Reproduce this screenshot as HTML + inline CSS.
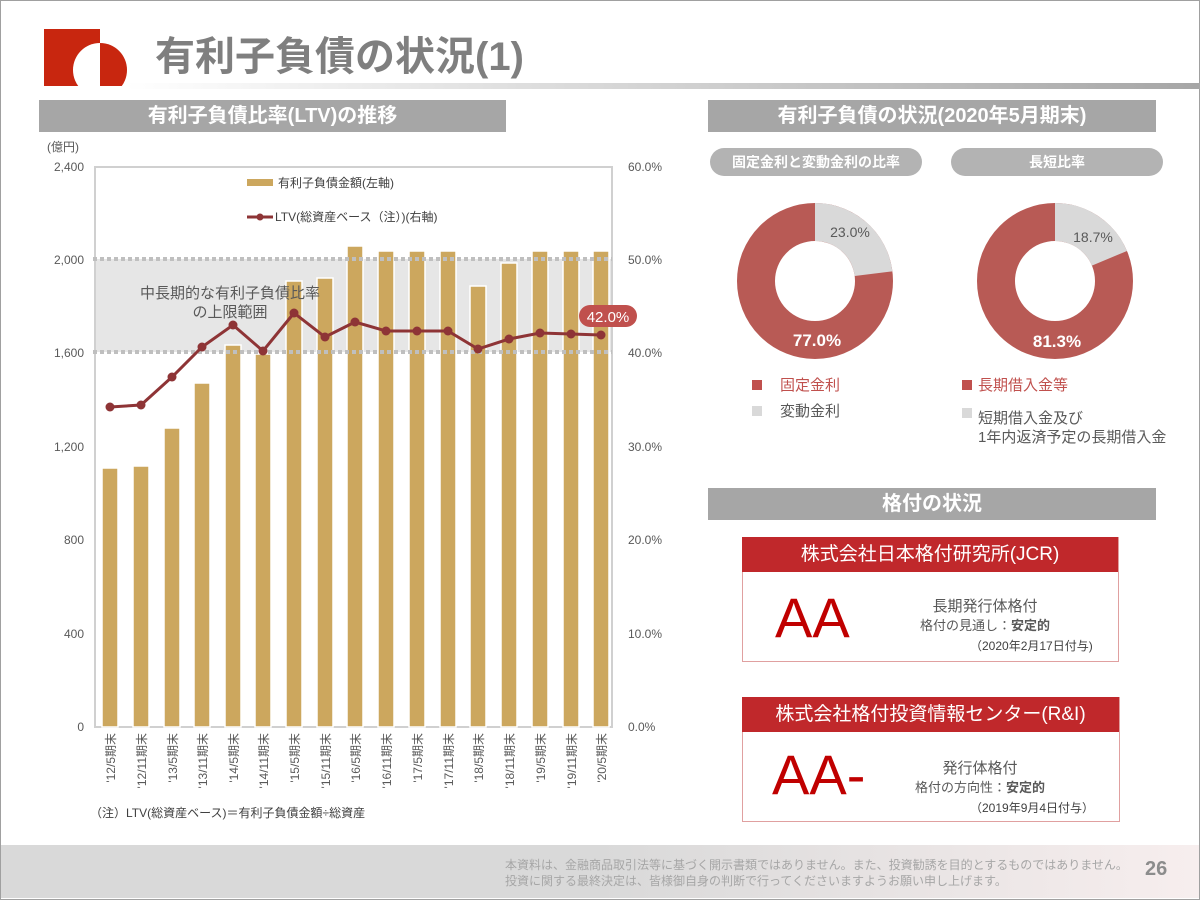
<!DOCTYPE html>
<html><head><meta charset="utf-8"><style>
body{margin:0;width:1200px;height:900px;overflow:hidden;background:#fff;font-family:"Liberation Sans","Noto Sans CJK JP",sans-serif;position:relative}
.a{position:absolute}
.hd{background:#a6a6a6;color:#fff;font-weight:bold;text-align:center}
.pill{background:#b3b3b3;color:#fff;font-weight:bold;text-align:center;border-radius:15px}
</style></head><body>
<div class="a" style="left:0;top:0;width:1198px;height:898px;border:1px solid #a0a0a0"></div>
<!-- logo -->
<svg class="a" style="left:40px;top:25px" width="95" height="65">
<defs><clipPath id="lc"><rect x="0" y="0" width="95" height="61"/></clipPath></defs>
<g clip-path="url(#lc)">
<rect x="4" y="4" width="56" height="57" fill="#c8260f"/>
<path d="M60 18 A27 27 0 0 0 60 72Z" fill="#fff"/>
<path d="M60 18 A27 27 0 0 1 60 72Z" fill="#c8260f"/>
</g></svg>
<div class="a" style="left:155px;top:24px;font-size:40px;font-weight:bold;color:#7f7f7f">有利子負債の状況(1)</div>
<div class="a" style="left:125px;top:83px;width:1075px;height:6px;background:linear-gradient(90deg,#fff,#a6a6a6)"></div>
<div class="a hd" style="left:39px;top:100px;width:467px;height:32px;line-height:32px;font-size:20px">有利子負債比率(LTV)の推移</div>
<div class="a hd" style="left:708px;top:100px;width:448px;height:32px;line-height:32px;font-size:20px">有利子負債の状況(2020年5月期末)</div>
<div class="a pill" style="left:710px;top:148px;width:212px;height:28px;line-height:28px;font-size:14px">固定金利と変動金利の比率</div>
<div class="a pill" style="left:951px;top:148px;width:212px;height:28px;line-height:28px;font-size:14px">長短比率</div>
<div class="a hd" style="left:708px;top:488px;width:448px;height:32px;line-height:32px;font-size:20px">格付の状況</div>

<svg class="a" style="left:0;top:0" width="700" height="840" font-family="Liberation Sans, Noto Sans CJK JP, sans-serif">
<rect x="95" y="259" width="517" height="93" fill="#e6e6e6"/>
<rect x="95" y="167" width="517" height="560" fill="none" stroke="#d0d0d0" stroke-width="2"/>
<g fill="#cca75e" stroke="#fff" stroke-width="1.5">
<rect x="102" y="468" width="16" height="259"/><rect x="133" y="466" width="16" height="261"/>
<rect x="164" y="428" width="16" height="299"/><rect x="194" y="383" width="16" height="344"/>
<rect x="225" y="345" width="16" height="382"/><rect x="255" y="354" width="16" height="373"/>
<rect x="286" y="281" width="16" height="446"/><rect x="317" y="278" width="16" height="449"/>
<rect x="347" y="246" width="16" height="481"/><rect x="378" y="251" width="16" height="476"/>
<rect x="409" y="251" width="16" height="476"/><rect x="440" y="251" width="16" height="476"/>
<rect x="470" y="286" width="16" height="441"/><rect x="501" y="263" width="16" height="464"/>
<rect x="532" y="251" width="16" height="476"/><rect x="563" y="251" width="16" height="476"/>
<rect x="593" y="251" width="16" height="476"/></g>
<line x1="93" y1="259" x2="612" y2="259" stroke="#bfbfbf" stroke-width="4" stroke-dasharray="4 3"/>
<line x1="93" y1="352" x2="612" y2="352" stroke="#bfbfbf" stroke-width="4" stroke-dasharray="4 3"/>
<polyline fill="none" stroke="#8e3436" stroke-width="3" points="110,407 141,405 172,377 202,347 233,325 263,351 294,313 325,337 355,322 386,331 417,331 448,331 478,349 509,339 540,333 571,334 601,335"/>
<g fill="#8e3436"><circle cx="110" cy="407" r="4.5"/><circle cx="141" cy="405" r="4.5"/><circle cx="172" cy="377" r="4.5"/><circle cx="202" cy="347" r="4.5"/><circle cx="233" cy="325" r="4.5"/><circle cx="263" cy="351" r="4.5"/><circle cx="294" cy="313" r="4.5"/><circle cx="325" cy="337" r="4.5"/><circle cx="355" cy="322" r="4.5"/><circle cx="386" cy="331" r="4.5"/><circle cx="417" cy="331" r="4.5"/><circle cx="448" cy="331" r="4.5"/><circle cx="478" cy="349" r="4.5"/><circle cx="509" cy="339" r="4.5"/><circle cx="540" cy="333" r="4.5"/><circle cx="571" cy="334" r="4.5"/><circle cx="601" cy="335" r="4.5"/></g>
<rect x="579" y="305" width="58" height="22" rx="11" fill="#c0504d"/>
<text x="608" y="322" fill="#fff" font-size="15" text-anchor="middle">42.0%</text>
<text x="230" y="298" fill="#595959" font-size="15" text-anchor="middle">中長期的な有利子負債比率</text>
<text x="230" y="317" fill="#595959" font-size="15" text-anchor="middle">の上限範囲</text>
<rect x="247" y="179" width="26" height="7" fill="#cca75e"/>
<text x="278" y="187" fill="#404040" font-size="12">有利子負債金額(左軸)</text>
<line x1="247" y1="217" x2="273" y2="217" stroke="#8e3436" stroke-width="3"/><circle cx="260" cy="217" r="3.5" fill="#8e3436"/>
<text x="275" y="221" fill="#404040" font-size="12">LTV(総資産ベース（注）)(右軸)</text>
<g fill="#595959" font-size="12" text-anchor="end">
<text x="84" y="171">2,400</text><text x="84" y="264">2,000</text><text x="84" y="357">1,600</text><text x="84" y="451">1,200</text><text x="84" y="544">800</text><text x="84" y="638">400</text><text x="84" y="731">0</text></g>
<text x="47" y="151" fill="#595959" font-size="12">(億円)</text>
<g fill="#595959" font-size="12">
<text x="628" y="171">60.0%</text><text x="628" y="264">50.0%</text><text x="628" y="357">40.0%</text><text x="628" y="451">30.0%</text><text x="628" y="544">20.0%</text><text x="628" y="638">10.0%</text><text x="628" y="731">0.0%</text></g>
<g fill="#595959" font-size="12">
<text transform="translate(115,733) rotate(-90)" text-anchor="end">'12/5期末</text>
<text transform="translate(146,733) rotate(-90)" text-anchor="end">'12/11期末</text>
<text transform="translate(177,733) rotate(-90)" text-anchor="end">'13/5期末</text>
<text transform="translate(207,733) rotate(-90)" text-anchor="end">'13/11期末</text>
<text transform="translate(238,733) rotate(-90)" text-anchor="end">'14/5期末</text>
<text transform="translate(268,733) rotate(-90)" text-anchor="end">'14/11期末</text>
<text transform="translate(299,733) rotate(-90)" text-anchor="end">'15/5期末</text>
<text transform="translate(330,733) rotate(-90)" text-anchor="end">'15/11期末</text>
<text transform="translate(360,733) rotate(-90)" text-anchor="end">'16/5期末</text>
<text transform="translate(391,733) rotate(-90)" text-anchor="end">'16/11期末</text>
<text transform="translate(422,733) rotate(-90)" text-anchor="end">'17/5期末</text>
<text transform="translate(453,733) rotate(-90)" text-anchor="end">'17/11期末</text>
<text transform="translate(483,733) rotate(-90)" text-anchor="end">'18/5期末</text>
<text transform="translate(514,733) rotate(-90)" text-anchor="end">'18/11期末</text>
<text transform="translate(545,733) rotate(-90)" text-anchor="end">'19/5期末</text>
<text transform="translate(576,733) rotate(-90)" text-anchor="end">'19/11期末</text>
<text transform="translate(606,733) rotate(-90)" text-anchor="end">'20/5期末</text></g>
<text x="90" y="817" fill="#404040" font-size="12">（注）LTV(総資産ベース)＝有利子負債金額÷総資産</text>
</svg>

<svg class="a" style="left:700px;top:180px" width="500" height="280" font-family="Liberation Sans, Noto Sans CJK JP, sans-serif">
<circle cx="115" cy="101" r="59" fill="none" stroke="#b85a55" stroke-width="38"/>
<circle cx="115" cy="101" r="59" fill="none" stroke="#d9d9d9" stroke-width="38" stroke-dasharray="85.3 400" transform="rotate(-90 115 101)"/>
<text x="150" y="57" fill="#595959" font-size="14" text-anchor="middle">23.0%</text>
<text x="117" y="166" fill="#fff" font-size="17" font-weight="bold" text-anchor="middle">77.0%</text>
<circle cx="355" cy="101" r="59" fill="none" stroke="#b85a55" stroke-width="38"/>
<circle cx="355" cy="101" r="59" fill="none" stroke="#d9d9d9" stroke-width="38" stroke-dasharray="69.3 400" transform="rotate(-90 355 101)"/>
<text x="393" y="62" fill="#595959" font-size="14" text-anchor="middle">18.7%</text>
<text x="357" y="167" fill="#fff" font-size="17" font-weight="bold" text-anchor="middle">81.3%</text>
<rect x="52" y="200" width="10" height="10" fill="#c0504d"/><text x="80" y="210" fill="#c0504d" font-size="15">固定金利</text>
<rect x="52" y="226" width="10" height="10" fill="#d9d9d9"/><text x="80" y="236" fill="#595959" font-size="15">変動金利</text>
<rect x="262" y="200" width="10" height="10" fill="#c0504d"/><text x="278" y="210" fill="#c0504d" font-size="15">長期借入金等</text>
<rect x="262" y="228" width="10" height="10" fill="#d9d9d9"/><text x="278" y="243" fill="#595959" font-size="15">短期借入金及び</text>
<text x="278" y="262" fill="#595959" font-size="15">1年内返済予定の長期借入金</text>
</svg>

<div class="a" style="left:742px;top:537px;width:375px;height:123px;border:1px solid #e0a0a0"></div>
<div class="a" style="left:742px;top:537px;width:376px;height:35px;background:#c0282b;color:#fff;font-size:19px;line-height:35px;text-align:center">株式会社日本格付研究所(JCR)</div>
<div class="a" style="left:775px;top:583px;font-size:56px;color:#c00000;line-height:70px">AA</div>
<div class="a" style="left:880px;top:595px;width:210px;text-align:center;color:#595959;font-size:15px">長期発行体格付</div>
<div class="a" style="left:880px;top:615px;width:210px;text-align:center;color:#595959;font-size:13px">格付の見通し：<b>安定的</b></div>
<div class="a" style="left:970px;top:637px;color:#404040;font-size:12px">（2020年2月17日付与)</div>

<div class="a" style="left:742px;top:697px;width:376px;height:123px;border:1px solid #e0a0a0"></div>
<div class="a" style="left:742px;top:697px;width:377px;height:35px;background:#c0282b;color:#fff;font-size:19px;line-height:35px;text-align:center">株式会社格付投資情報センター(R&amp;I)</div>
<div class="a" style="left:772px;top:740px;font-size:56px;color:#c00000;line-height:70px">AA-</div>
<div class="a" style="left:880px;top:757px;width:200px;text-align:center;color:#595959;font-size:15px">発行体格付</div>
<div class="a" style="left:880px;top:777px;width:200px;text-align:center;color:#595959;font-size:13px">格付の方向性：<b>安定的</b></div>
<div class="a" style="left:970px;top:799px;color:#404040;font-size:12px">（2019年9月4日付与）</div>

<div class="a" style="left:1px;top:845px;width:1198px;height:53px;background:linear-gradient(90deg,#d9d9d9 0%,#d9d9d9 50%,#f7eeee 100%)"></div>
<div class="a" style="left:505px;top:857px;font-size:12px;color:#a6a6a6;line-height:16px">本資料は、金融商品取引法等に基づく開示書類ではありません。また、投資勧誘を目的とするものではありません。<br>投資に関する最終決定は、皆様御自身の判断で行ってくださいますようお願い申し上げます。</div>
<div class="a" style="left:1145px;top:858px;font-size:20px;font-weight:bold;color:#8c8c8c">26</div>
</body></html>
